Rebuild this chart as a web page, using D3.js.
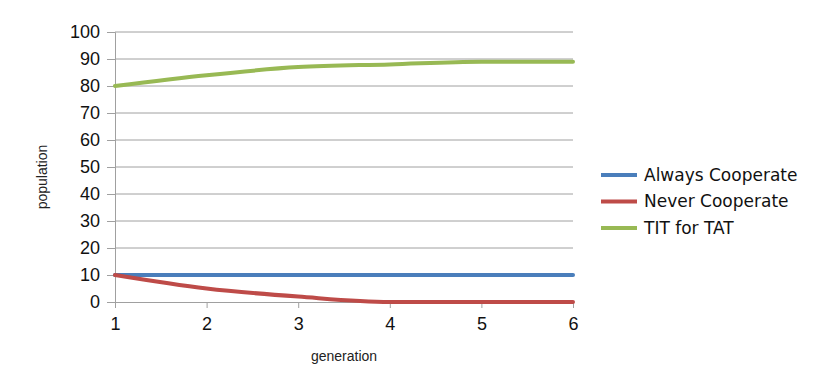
<!DOCTYPE html>
<html>
<head>
  <meta charset="utf-8" />
  <script src="https://d3js.org/d3.v7.min.js"></script>
  <style>
    body { margin: 0; background: #fff; }
    svg { display: block; font-family: "DejaVu Sans", sans-serif; }
    .tick text { fill: #111; }
    .grid line { stroke: #a0a0a0; stroke-width: 1px; }
    .series { fill: none; stroke-width: 4px; stroke-linejoin: round; stroke-linecap: round; }
  </style>
</head>
<body>
<svg width="825" height="372"></svg>
<script>
  const generations = [1, 2, 3, 4, 5, 6];
  const yTicks = [0, 10, 20, 30, 40, 50, 60, 70, 80, 90, 100];
  const seriesNames = ["Always Cooperate", "Never Cooperate", "TIT for TAT"];
  const seriesColors = ["#4a7ebb", "#be4b48", "#98b954"];
  const alwaysCooperate = [10, 10, 10, 10, 10, 10];
  const neverCooperate = [10, 5, 2, 0, 0, 0];
  const titForTat = [80, 84, 87, 88, 89, 89];
  const seriesValues = [alwaysCooperate, neverCooperate, titForTat];

  const svg = d3.select("svg");
  const margin = { left: 115, right: 252, top: 32, bottom: 70 };
  const width = 825, height = 372;

  const x = d3.scaleLinear().domain([1, 6]).range([margin.left, width - margin.right]);
  const y = d3.scaleLinear().domain([0, 100]).range([height - margin.bottom, margin.top]);

  // horizontal gridlines
  svg.append("g").attr("class", "grid")
    .selectAll("line").data(yTicks.slice(1)).join("line")
    .attr("x1", x(1)).attr("x2", x(6))
    .attr("y1", d => y(d)).attr("y2", d => y(d));

  const yAxis = svg.append("g")
    .attr("transform", `translate(${x(1)},0)`)
    .call(d3.axisLeft(y).tickValues(yTicks).tickSize(8).tickPadding(7));
  yAxis.selectAll("text").style("font-size", "18px");

  const xAxis = svg.append("g")
    .attr("transform", `translate(0,${y(0)})`)
    .call(d3.axisBottom(x).tickValues(generations).tickFormat(d3.format("d")).tickSize(6).tickPadding(9));
  xAxis.selectAll("text").style("font-size", "18px");

  svg.selectAll(".domain, .tick line").attr("stroke", "#a0a0a0");

  const line = d3.line()
    .x((d, i) => x(generations[i]))
    .y(d => y(d))
    .curve(d3.curveMonotoneX);

  svg.selectAll(".series").data(seriesValues).join("path")
    .attr("class", "series")
    .attr("stroke", (d, i) => seriesColors[i])
    .attr("d", line);

  // axis titles
  svg.append("text")
    .attr("transform", `translate(47,${(y(0) + y(100)) / 2 + 10}) rotate(-90)`)
    .attr("text-anchor", "middle")
    .style("font-family", "'Liberation Sans', Arial, sans-serif")
    .style("font-size", "14px")
    .attr("fill", "#222")
    .text("population");

  svg.append("text")
    .attr("x", (x(1) + x(6)) / 2)
    .attr("y", 361)
    .attr("text-anchor", "middle")
    .style("font-family", "'Liberation Sans', Arial, sans-serif")
    .style("font-size", "14px")
    .attr("fill", "#222")
    .text("generation");

  // legend
  const legend = svg.append("g").attr("transform", "translate(601,175)");
  const item = legend.selectAll("g").data(seriesNames).join("g")
    .attr("transform", (d, i) => `translate(0,${i * 26.5})`);
  item.append("line")
    .attr("x1", 0).attr("x2", 36)
    .attr("stroke", (d, i) => seriesColors[i])
    .attr("stroke-width", 4);
  item.append("text")
    .attr("x", 43).attr("dy", "0.35em")
    .style("font-size", "17px")
    .attr("fill", "#111")
    .text(d => d);
</script>
</body>
</html>
